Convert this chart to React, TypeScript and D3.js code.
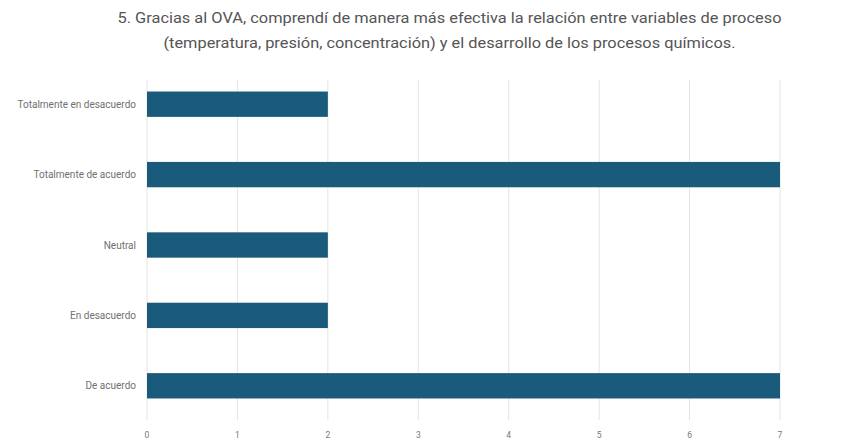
import React from "react";
import * as d3 from "d3";

const categories = [
  "Totalmente en desacuerdo",
  "Totalmente de acuerdo",
  "Neutral",
  "En desacuerdo",
  "De acuerdo",
];
const values = [2, 7, 2, 2, 7];
const xTicks = [0, 1, 2, 3, 4, 5, 6, 7];
const titleLines = [
  "5. Gracias al OVA, comprendí de manera más efectiva la relación entre variables de proceso",
  "(temperatura, presión, concentración) y el desarrollo de los procesos químicos.",
];
const titleWidths = [664, 572];

const W = 868;
const H = 441;
const left = 147;
const right = 780;
const top = 69;
const bottom = 421;

export default function App() {
  const x = d3.scaleLinear().domain([0, 7]).range([left, right]);
  const y = d3
    .scaleBand()
    .domain(categories)
    .range([top, bottom])
    .paddingInner(0.64)
    .paddingOuter(0.32);

  return (
    <svg
      width={W}
      height={H}
      style={{ position: "absolute", left: 0, top: 0, background: "#fff" }}
      fontFamily="Roboto, 'Open Sans', sans-serif"
    >
      {titleLines.map((t, i) => (
        <text
          key={i}
          x={449.5}
          y={23 + i * 24.5}
          textAnchor="middle"
          fontSize={14.5}
          fill="#555"
          textLength={titleWidths[i]}
          lengthAdjust="spacingAndGlyphs"
        >
          {t}
        </text>
      ))}
      {xTicks.map((t) => (
        <g key={t}>
          <line
            x1={x(t)}
            x2={x(t)}
            y1={80}
            y2={420}
            stroke="#e4e4e4"
            strokeWidth={1}
          />
          <text
            x={x(t)}
            y={438}
            textAnchor="middle"
            fontSize={8.5}
            fill="#777"
          >
            {t}
          </text>
        </g>
      ))}
      {categories.map((c, i) => (
        <g key={c}>
          <rect
            x={x(0)}
            y={y(c)!}
            width={x(values[i]) - x(0)}
            height={y.bandwidth()}
            fill="#1a5a7b"
          />
          <text
            x={136}
            y={y(c)! + y.bandwidth() / 2}
            dy="0.35em"
            textAnchor="end"
            fontSize={10}
            fill="#707070"
          >
            {c}
          </text>
        </g>
      ))}
    </svg>
  );
}
